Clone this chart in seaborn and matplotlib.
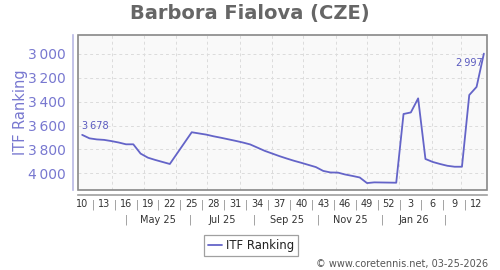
import matplotlib
matplotlib.use("Agg")
import matplotlib.pyplot as plt
import matplotlib.dates as mdates
from matplotlib.patches import Rectangle
from matplotlib.transforms import blended_transform_factory
from datetime import date
import seaborn as sns
import pandas as pd

# ---------------- data ----------------
dates = [
    "2025-03-03", "2025-03-10", "2025-03-17", "2025-03-24", "2025-03-31",
    "2025-04-07", "2025-04-14", "2025-04-21", "2025-04-28", "2025-05-05",
    "2025-05-12", "2025-05-19", "2025-05-26",
    "2025-06-16", "2025-06-23", "2025-06-30", "2025-07-07", "2025-07-14",
    "2025-07-21", "2025-07-28", "2025-08-04", "2025-08-11", "2025-08-18",
    "2025-08-25", "2025-09-01", "2025-09-08", "2025-09-15", "2025-09-22",
    "2025-09-29", "2025-10-06", "2025-10-13", "2025-10-20", "2025-10-27",
    "2025-11-03", "2025-11-10", "2025-11-17", "2025-11-24", "2025-12-01",
    "2025-12-08", "2025-12-15", "2025-12-22", "2025-12-29", "2026-01-05",
    "2026-01-12", "2026-01-19", "2026-01-26", "2026-02-02", "2026-02-09",
    "2026-02-16", "2026-02-23", "2026-03-02", "2026-03-09", "2026-03-16",
    "2026-03-23",
]
ranking = [
    3678, 3707, 3716, 3720, 3730,
    3742, 3757, 3757, 3835, 3869,
    3888, 3905, 3922,
    3656, 3666, 3676, 3690, 3702,
    3715, 3728, 3742, 3758, 3785,
    3812, 3834, 3856, 3876, 3895,
    3912, 3930, 3948, 3980, 3993,
    3994, 4010, 4022, 4035, 4082,
    4076, 4077, 4078, 4079, 3503,
    3490, 3372, 3880, 3905, 3922,
    3937, 3945, 3945, 3344, 3276,
    2997,
]

y_ticks = [3000, 3200, 3400, 3600, 3800, 4000]
week_tick_years = [2025] * 15 + [2026] * 4
week_tick_numbers = [10, 13, 16, 19, 22, 25, 28, 31, 34, 37, 40, 43, 46, 49, 52, 3, 6, 9, 12]
month_label_dates = ["2025-05-15", "2025-07-15", "2025-09-15", "2025-11-15", "2026-01-15"]
month_labels = ["May 25", "Jul 25", "Sep 25", "Nov 25", "Jan 26"]

title = "Barbora Fialova (CZE)"
series_name = "ITF Ranking"
credit = "\u00a9 www.coretennis.net, 03-25-2026"

# ---------------- style ----------------
LINE = "#6464c8"
LABEL_BLUE = "#7878d0"
DPI = 100
PT = 72.0 / DPI  # points per pixel

sns.set_style("white")
plt.rcParams["font.family"] = ["DejaVu Sans"]

df = pd.DataFrame({"date": pd.to_datetime(dates), "rank": ranking})

fig = plt.figure(figsize=(5.0, 2.7), dpi=DPI)
fig.patch.set_facecolor("white")
ax = fig.add_axes([78 / 500, 80 / 270, 409 / 500, 155 / 270])
ax.set_facecolor("#f9f9f9")

sns.lineplot(data=df, x="date", y="rank", ax=ax, color=LINE,
             linewidth=1.3, label=series_name, legend=False)

ax.set_xlim(pd.Timestamp("2025-02-27"), pd.Timestamp("2026-03-26"))
ax.set_ylim(4140, 2841)

# y axis
ax.set_yticks(y_ticks)
ax.set_yticklabels([f"{v:,}".replace(",", "\u2009") for v in y_ticks], fontsize=9)
ax.tick_params(axis="y", length=0, pad=5, labelcolor=LABEL_BLUE)
ax.set_ylabel(series_name, color=LABEL_BLUE, fontsize=10.5)
ax.yaxis.set_label_coords(-0.123, 0.5)

# x axis: month-start ticks & grid
month_starts = pd.date_range("2025-04-01", "2026-03-01", freq="MS")
ax.set_xticks(month_starts)
ax.set_xticklabels([])
ax.tick_params(axis="x", length=3 * PT, width=0.8, color="#aaaaaa", direction="out")
ax.set_xlabel("")

ax.grid(True, color="#dcdcdc", linestyle=(0, (3, 3)), linewidth=0.7)

# spines: offset left/bottom, frame drawn separately
for s in ["top", "right"]:
    ax.spines[s].set_visible(False)
ax.spines["left"].set_position(("outward", 5 * PT))
ax.spines["left"].set_color("#b8b8e4")
ax.spines["left"].set_linewidth(1.2)
ax.spines["bottom"].set_position(("outward", 5 * PT))
ax.spines["bottom"].set_color("#a0a0a0")
ax.spines["bottom"].set_linewidth(1.2)
ax.add_patch(Rectangle((0, 0), 1, 1, transform=ax.transAxes, fill=False,
                       edgecolor="#888888", linewidth=1.2, zorder=5, clip_on=False))

# week labels row with separators
trans = blended_transform_factory(ax.transData, ax.transAxes)
week_dates = [pd.Timestamp(date.fromisocalendar(y, w, 1))
              for y, w in zip(week_tick_years, week_tick_numbers)]
for d, w in zip(week_dates, week_tick_numbers):
    ax.text(mdates.date2num(d), -0.092, str(w), transform=trans, ha="center",
            va="center", fontsize=7, color="#333333")
for a, b in zip(week_dates[:-1], week_dates[1:]):
    mid = a + (b - a) / 2
    ax.text(mdates.date2num(mid), -0.092, "|", transform=trans, ha="center",
            va="center", fontsize=7, color="#888888")

# month labels row with separators
mdts = [pd.Timestamp(d) for d in month_label_dates]
for d, lab in zip(mdts, month_labels):
    ax.text(mdates.date2num(d), -0.195, lab, transform=trans, ha="center",
            va="center", fontsize=7, color="#333333")
seps = [mdts[0] - (mdts[1] - mdts[0]) / 2]
seps += [a + (b - a) / 2 for a, b in zip(mdts[:-1], mdts[1:])]
seps += [mdts[-1] + (mdts[-1] - mdts[-2]) / 2]
for s in seps:
    ax.text(mdates.date2num(s), -0.195, "|", transform=trans, ha="center",
            va="center", fontsize=7, color="#888888")

# first / last value annotations
first_d, first_v = df["date"].iloc[0], df["rank"].iloc[0]
last_d, last_v = df["date"].iloc[-1], df["rank"].iloc[-1]
ax.annotate(f"{first_v:,}".replace(",", "\u2009"), (first_d, first_v),
            xytext=(0, 3), textcoords="offset points", ha="left", va="bottom",
            fontsize=7, color="#5a5abf")
ax.annotate(f"{last_v:,}".replace(",", "\u2009"), (last_d, last_v),
            xytext=(-1, -3.5), textcoords="offset points", ha="right", va="top",
            fontsize=7, color="#5a5abf")

# title
fig.text(0.5, 1 - 14 / 270, title, ha="center", va="center",
         fontsize=14, fontweight="bold", color="#666666")

# legend
leg = ax.legend(loc="center", bbox_to_anchor=(251 / 500, 1 - 245.5 / 270),
                bbox_transform=fig.transFigure, frameon=True, fancybox=False,
                edgecolor="#a0a0a0", facecolor="white", framealpha=1,
                fontsize=8.4, handlelength=1.2, handletextpad=0.4,
                borderpad=0.35, borderaxespad=0)
leg.get_frame().set_linewidth(0.9)
for t in leg.get_texts():
    t.set_color("#222222")

# credit
fig.text(488 / 500, 1 - 264 / 270, credit, ha="right", va="center",
         fontsize=7, color="#555555")

fig.savefig("out.png", dpi=DPI)
